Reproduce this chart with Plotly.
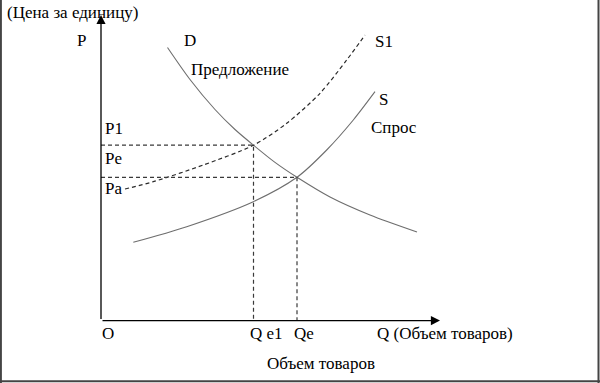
import plotly.graph_objects as go

# Origin of the diagram (axes cross) is (0, 0); units: quantity Q and price P
# Demand curve D
d_q = [66.5, 89.0, 114.0, 134.0, 152.5, 174.0, 196.0, 229.0, 269.0, 316.0]
d_p = [273.1, 241.1, 211.1, 191.1, 175.4, 158.2, 143.3, 123.6, 105.6, 88.6]

# Shifted supply curve S1 (dashed)
s1_q = [24.0, 52.3, 102.3, 152.5, 185.7, 219.0, 245.7, 264.0]
s1_p = [131.6, 138.9, 155.6, 175.4, 197.3, 227.3, 260.6, 285.6]

# Supply curve S
s_q = [32.3, 85.7, 152.3, 196.0, 225.7, 252.3, 274.0]
s_p = [78.3, 93.9, 118.9, 143.3, 170.6, 200.6, 228.9]

# Equilibrium levels
p1_level = 175.4
pa_level = 143.3
qe1_level = 152.5
qe_level = 196.0

# Axis extents
x_axis_end = 339.0
y_axis_end = 305.6

X0, Y0 = 101.0, 320.6  # pixel position of origin (for figure framing)

SERIF = "Liberation Serif, Times New Roman, serif"
CURVE = "#6e6e6e"
DASH = "#3a3a3a"

fig = go.Figure()

fig.add_trace(go.Scatter(x=d_q, y=d_p, mode="lines", line=dict(color=CURVE, width=1.1, shape="spline", smoothing=0.8),
                         hoverinfo="skip", showlegend=False))
fig.add_trace(go.Scatter(x=s1_q, y=s1_p, mode="lines",
                         line=dict(color="#2a2a2a", width=1.2, shape="spline", smoothing=0.8, dash="4px,3px"),
                         hoverinfo="skip", showlegend=False))
fig.add_trace(go.Scatter(x=s_q, y=s_p, mode="lines", line=dict(color=CURVE, width=1.1, shape="spline", smoothing=0.8),
                         hoverinfo="skip", showlegend=False))

# dashed guide lines
fig.add_trace(go.Scatter(x=[0, qe1_level, qe1_level], y=[p1_level, p1_level, 0], mode="lines",
                         line=dict(color=DASH, width=1.2, dash="4px,3px"), hoverinfo="skip", showlegend=False))
fig.add_trace(go.Scatter(x=[0, qe_level, qe_level], y=[pa_level, pa_level, 0], mode="lines",
                         line=dict(color=DASH, width=1.2, dash="4px,3px"), hoverinfo="skip", showlegend=False))

annotations = []
# axes with arrows
annotations.append(dict(x=0, y=y_axis_end, ax=0, ay=0, axref="x", ayref="y", xref="x", yref="y",
                        text="", showarrow=True, arrowhead=2, arrowsize=1.4, arrowwidth=1.3, arrowcolor="black"))
annotations.append(dict(x=x_axis_end, y=0, ax=0, ay=0, axref="x", ayref="y", xref="x", yref="y",
                        text="", showarrow=True, arrowhead=2, arrowsize=1.4, arrowwidth=1.3, arrowcolor="black"))

def label(text, px_left, py_center, size=17):
    annotations.append(dict(x=px_left - X0, y=Y0 - py_center, xref="x", yref="y", text=text,
                            showarrow=False, xanchor="left", yanchor="middle",
                            font=dict(family=SERIF, size=size, color="black")))

label("(Цена за единицу)", 5, 12)
label("P", 75, 40)
label("D", 182, 40)
label("Предложение", 189, 69)
label("S1", 373, 41)
label("S", 377, 99)
label("Спрос", 369, 127)
label("P1", 103, 128)
label("Pe", 103, 158)
label("Pa", 103, 188)
label("O", 100, 333)
label("Q e1", 248, 333)
label("Qe", 292, 333)
label("Q (Объем товаров)", 375, 333)
label("Объем товаров", 265, 363)

shapes = [
    dict(type="line", xref="paper", yref="paper", x0=0.0015, x1=0.0015, y0=0, y1=1, line=dict(color="#444", width=2)),
    dict(type="line", xref="paper", yref="paper", x0=0.9975, x1=0.9975, y0=0, y1=1, line=dict(color="#444", width=2)),
    dict(type="line", xref="paper", yref="paper", x0=0, x1=1, y0=0.0045, y1=0.0045, line=dict(color="#444", width=2)),
]

fig.update_layout(
    width=600, height=383,
    margin=dict(l=0, r=0, t=0, b=0),
    paper_bgcolor="white", plot_bgcolor="white",
    xaxis=dict(range=[-X0, 600 - X0], visible=False, fixedrange=True),
    yaxis=dict(range=[Y0 - 383, Y0], visible=False, fixedrange=True),
    annotations=annotations, shapes=shapes,
    showlegend=False,
)

fig.write_html("out.html", config={"displayModeBar": False},
               post_script="document.body.style.margin='0';document.body.style.overflow='hidden';")
